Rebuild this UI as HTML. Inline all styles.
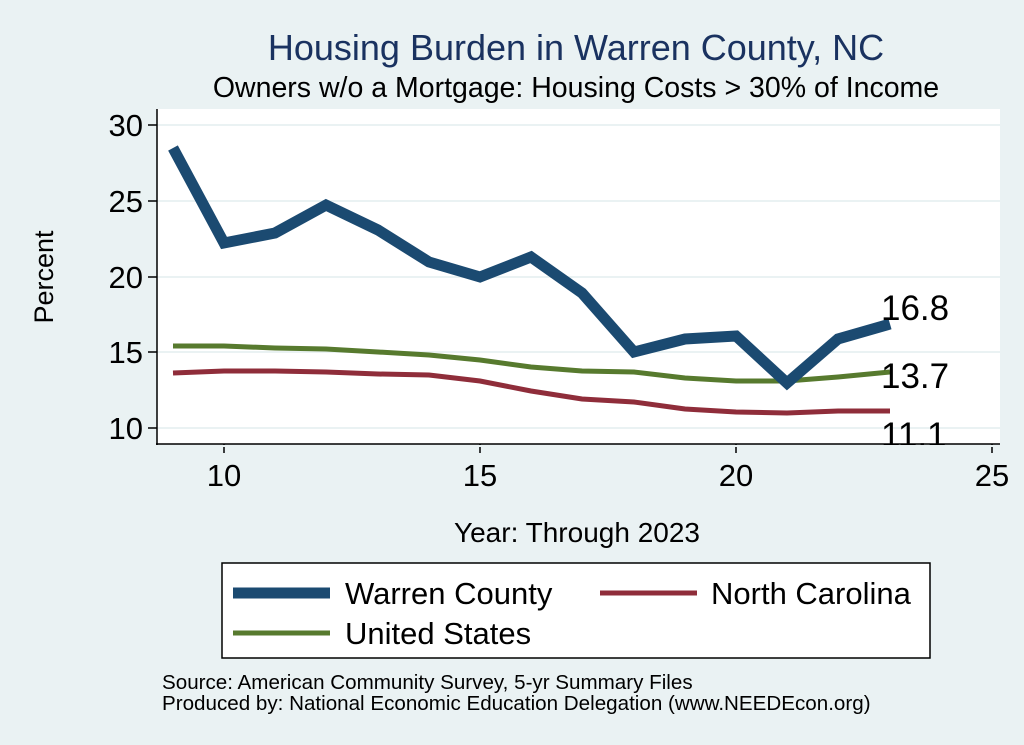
<!DOCTYPE html>
<html><head><meta charset="utf-8"><style>
body{margin:0;background:#eaf2f3;}
svg{display:block;font-family:"Liberation Sans",Arial,sans-serif;}
</style></head><body>
<svg width="1024" height="745" viewBox="0 0 1024 745">
<rect width="1024" height="745" fill="#eaf2f3"/>
<text x="576" y="60" font-size="36" fill="#1a3260" text-anchor="middle">Housing Burden in Warren County, NC</text>
<text x="576" y="97" font-size="28.5" fill="#000" text-anchor="middle">Owners w/o a Mortgage: Housing Costs &gt; 30% of Income</text>
<rect x="157" y="109" width="843" height="335" fill="#fff"/>
<g stroke="#eaf2f3" stroke-width="2">
<line x1="157" x2="1000" y1="125" y2="125"/><line x1="157" x2="1000" y1="201" y2="201"/>
<line x1="157" x2="1000" y1="277" y2="277"/><line x1="157" x2="1000" y1="352" y2="352"/>
<line x1="157" x2="1000" y1="428" y2="428"/>
</g>
<g stroke="#000" stroke-width="1.5">
<line x1="157" y1="109" x2="157" y2="445"/><line x1="156" y1="444" x2="1000" y2="444"/>
<line x1="148" x2="157" y1="125" y2="125"/><line x1="148" x2="157" y1="201" y2="201"/>
<line x1="148" x2="157" y1="277" y2="277"/><line x1="148" x2="157" y1="352" y2="352"/>
<line x1="148" x2="157" y1="428" y2="428"/>
<line x1="224" x2="224" y1="444" y2="453"/><line x1="480" x2="480" y1="444" y2="453"/>
<line x1="736" x2="736" y1="444" y2="453"/><line x1="992" x2="992" y1="444" y2="453"/>
</g>
<g font-size="31" fill="#000" text-anchor="end">
<text x="143" y="136">30</text><text x="143" y="212">25</text><text x="143" y="288">20</text>
<text x="143" y="363">15</text><text x="143" y="439">10</text>
</g>
<g font-size="31" fill="#000" text-anchor="middle">
<text x="224" y="486">10</text><text x="480" y="486">15</text><text x="736" y="486">20</text><text x="992" y="486">25</text>
</g>
<text x="53" y="277" font-size="27" text-anchor="middle" transform="rotate(-90 53 277)">Percent</text>
<text x="577" y="542" font-size="28" text-anchor="middle">Year: Through 2023</text>
<polyline fill="none" stroke="#8f2d3a" stroke-width="5" points="173,373 224,371 275,371 326,372 378,374 429,375 480,381 531,391 582,399 634,402 685,409 736,412 787,413 838,411 890,411"/>
<polyline fill="none" stroke="#577a2e" stroke-width="5" points="173,346 224,346 275,348 326,349 378,352 429,355 480,360 531,367 582,371 634,372 685,378 736,381 787,381 838,377 890,372"/>
<polyline fill="none" stroke="#1b4a71" stroke-width="11" stroke-linejoin="miter" points="173,148 224,243 275,233 326,205 378,230 429,262 480,277 531,257 582,293 634,352 685,339 736,336 787,383 838,339 890,324"/>
<g font-size="35" fill="#000">
<text x="881" y="320">16.8</text><text x="881" y="388">13.7</text><text x="881" y="447">11.1</text>
</g>
<rect x="0" y="445" width="1024" height="2" fill="#eaf2f3"/>
<rect x="222" y="563" width="708" height="95" fill="#fff" stroke="#000" stroke-width="1.5"/>
<line x1="233" x2="330" y1="593" y2="593" stroke="#1b4a71" stroke-width="11"/>
<line x1="600" x2="697" y1="593" y2="593" stroke="#8f2d3a" stroke-width="5"/>
<line x1="233" x2="330" y1="633" y2="633" stroke="#577a2e" stroke-width="5"/>
<g font-size="31" fill="#000">
<text x="345" y="604">Warren County</text><text x="711" y="604">North Carolina</text><text x="345" y="644">United States</text>
</g>
<g font-size="20.6" fill="#000">
<text x="162" y="689">Source: American Community Survey, 5-yr Summary Files</text>
<text x="162" y="710">Produced by: National Economic Education Delegation (www.NEEDEcon.org)</text>
</g>
</svg>
</body></html>
